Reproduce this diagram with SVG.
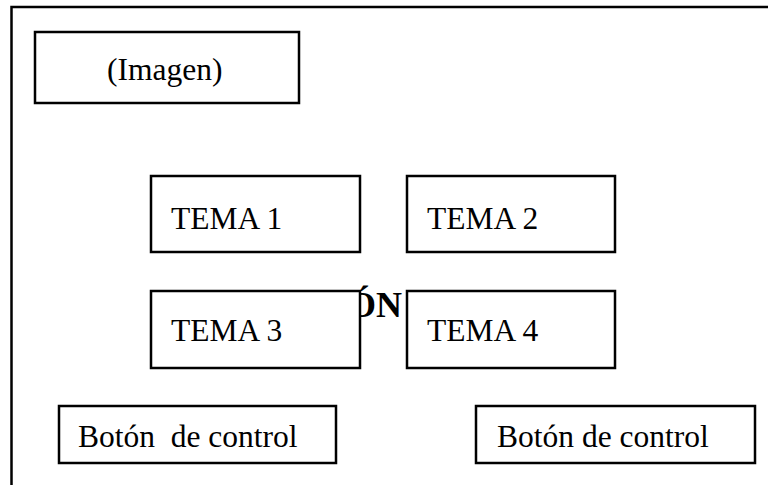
<svg xmlns="http://www.w3.org/2000/svg" width="768" height="485" viewBox="0 0 768 485">
<style>
.box{fill:#fff;stroke:#000;stroke-width:2.5}
.t{font-family:"Liberation Serif","Times New Roman",serif;font-size:31.5px;fill:#000;white-space:pre}
.b{font-family:"Liberation Serif","Times New Roman",serif;font-size:36px;font-weight:bold;fill:#000}
</style>
<rect width="768" height="485" fill="#fff"/>
<g id="frame">
<path d="M11.5,485 V7 H768" fill="none" stroke="#000" stroke-width="2.5"/>
</g>
<g id="hidden-title">
<text class="b" x="348" y="317">ÓN</text>
</g>
<g id="imagen">
<rect class="box" x="35" y="32" width="264" height="71"/>
<text class="t" x="107" y="80">(Imagen)</text>
</g>
<g id="tema1">
<rect class="box" x="151" y="176" width="209" height="76"/>
<text class="t" x="171" y="229">TEMA 1</text>
</g>
<g id="tema2">
<rect class="box" x="407" y="176" width="208" height="76"/>
<text class="t" x="427" y="229">TEMA 2</text>
</g>
<g id="tema3">
<rect class="box" x="151" y="291" width="209" height="77"/>
<text class="t" x="171" y="341">TEMA 3</text>
</g>
<g id="tema4">
<rect class="box" x="407" y="291" width="208" height="77"/>
<text class="t" x="427" y="341">TEMA 4</text>
</g>
<g id="boton1">
<rect class="box" x="59" y="406" width="277" height="57"/>
<text class="t" x="78" y="447" xml:space="preserve">Botón  de control</text>
</g>
<g id="boton2">
<rect class="box" x="476" y="406" width="279" height="57"/>
<text class="t" x="497" y="447">Botón de control</text>
</g>
<g id="connectors"></g>
</svg>
